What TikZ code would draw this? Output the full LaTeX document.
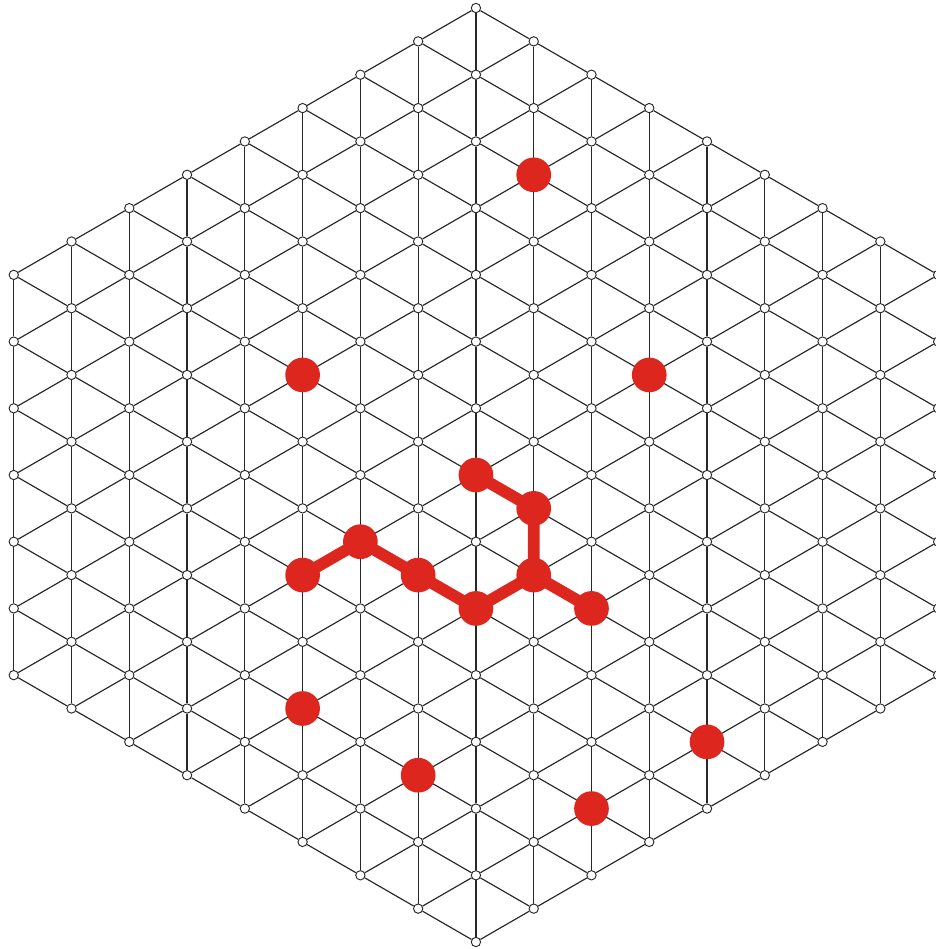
\documentclass[tikz,border=0pt]{standalone}
\usepackage{xcolor}
\definecolor{molred}{RGB}{220,38,30}
\definecolor{gridgray}{RGB}{40,40,40}
\usetikzlibrary{backgrounds}
\tikzset{
  site/.style={
    circle, draw=gridgray, fill=white, line width=0.4pt,
    minimum size=0.14cm, inner sep=0pt},
  atom/.style={
    circle, fill=molred, minimum size=0.52cm, inner sep=0pt},
  gridline/.style={draw=gridgray, line width=0.5pt},
  bond/.style={draw=molred, line width=5pt},
}

\begin{document}
\begin{tikzpicture}[x=0.866cm, y=0.5cm]
  \useasboundingbox (-8.238,0.24) rectangle (7.961,-28.21);
  % lattice sites, column by column
  \foreach \c in {-8,...,8}{
    \pgfmathtruncatemacro\lo{abs(\c)}
    \pgfmathtruncatemacro\nx{abs(\c)+2}
    \pgfmathtruncatemacro\hi{28-abs(\c)}
    \foreach \m in {\lo,\nx,...,\hi}
      \node[site] (v\c-\m) at (\c,-\m) {};
  }
  % lattice edges
  \begin{scope}[on background layer]
    \foreach \c in {-8,...,8}{
      \pgfmathtruncatemacro\lo{abs(\c)}
      \pgfmathtruncatemacro\nx{abs(\c)+2}
      \pgfmathtruncatemacro\hi{28-abs(\c)}
      \foreach \m in {\lo,\nx,...,\hi}{
        \ifnum\m<\hi
          \pgfmathtruncatemacro\dn{\m+2}
          \draw[gridline] (v\c-\m) -- (v\c-\dn);
        \fi
        \ifnum\c<8
          \pgfmathtruncatemacro\cr{\c+1}
          \pgfmathtruncatemacro\lr{abs(\c+1)}
          \pgfmathtruncatemacro\hr{28-abs(\c+1)}
          \pgfmathtruncatemacro\up{\m-1}
          \pgfmathtruncatemacro\lw{\m+1}
          \ifnum\up<\lr\else \draw[gridline] (v\c-\m) -- (v\cr-\up); \fi
          \ifnum\lw>\hr\else \draw[gridline] (v\c-\m) -- (v\cr-\lw); \fi
        \fi
      }
    }
  \end{scope}
  % red atoms
  \foreach \c/\m/\n in {1/5/s1, -3/11/s2, 3/11/s3, -3/21/s4, 4/22/s5,
                        -1/23/s6, 2/24/s7, 0/14/m1, 1/15/m2, -2/16/m3,
                        -3/17/m4, -1/17/m5, 1/17/m6, 0/18/m7, 2/18/m8}
    \node[atom] (\n) at (v\c-\m) {};
  \begin{scope}[on background layer]
    \draw[bond] (m1.center) -- (m2.center) -- (m6.center);
    \draw[bond] (m4.center) -- (m3.center) -- (m5.center)
      -- (m7.center) -- (m6.center) -- (m8.center);
  \end{scope}
\end{tikzpicture}
\end{document}
